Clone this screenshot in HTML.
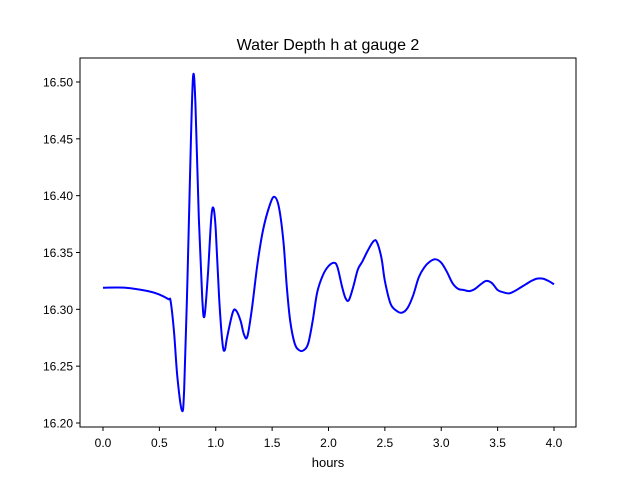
<!DOCTYPE html>
<html><head><meta charset="utf-8"><style>
body{margin:0;background:#fff;}
svg{display:block;font-family:"Liberation Sans","DejaVu Sans",sans-serif;}
</style></head><body>
<svg id="chart" width="640" height="480">
<rect x="0" y="0" width="640" height="480" fill="#fff"/>
<text x="328" y="50" font-size="16" text-anchor="middle">Water Depth h at gauge 2</text>
<g id="plot"></g>
<rect x="80" y="58" width="496" height="369" fill="none" stroke="#000" stroke-width="1"/>
<text x="328" y="467" font-size="13" text-anchor="middle">hours</text>
</svg>
<script>
const xTicks=[0.0,0.5,1.0,1.5,2.0,2.5,3.0,3.5,4.0];
const xTickLabels=["0.0","0.5","1.0","1.5","2.0","2.5","3.0","3.5","4.0"];
const yTicks=[16.20,16.25,16.30,16.35,16.40,16.45,16.50];
const yTickLabels=["16.20","16.25","16.30","16.35","16.40","16.45","16.50"];
const hours=[0.0,0.2,0.4,0.5,0.58,0.6,0.63,0.66,0.7,0.72,0.75,0.78,0.8,0.82,0.85,0.88,0.9,0.93,0.96,0.98,1.0,1.03,1.06,1.08,1.1,1.15,1.18,1.22,1.25,1.28,1.32,1.37,1.42,1.48,1.52,1.56,1.6,1.63,1.66,1.7,1.74,1.78,1.82,1.86,1.9,1.95,2.0,2.05,2.08,2.12,2.15,2.18,2.22,2.26,2.3,2.35,2.4,2.43,2.47,2.5,2.55,2.6,2.65,2.7,2.75,2.8,2.85,2.9,2.95,3.0,3.05,3.1,3.15,3.2,3.25,3.3,3.35,3.4,3.45,3.5,3.55,3.6,3.65,3.7,3.75,3.8,3.85,3.9,3.95,4.0];
const depth=[16.319,16.319,16.316,16.313,16.309,16.307,16.28,16.24,16.211,16.23,16.33,16.45,16.506,16.48,16.38,16.31,16.294,16.33,16.38,16.389,16.37,16.31,16.27,16.264,16.275,16.297,16.299,16.29,16.278,16.276,16.30,16.34,16.37,16.392,16.399,16.39,16.36,16.32,16.29,16.27,16.264,16.264,16.27,16.29,16.315,16.33,16.338,16.341,16.337,16.32,16.31,16.308,16.32,16.335,16.342,16.352,16.36,16.359,16.345,16.325,16.305,16.299,16.297,16.301,16.312,16.328,16.337,16.342,16.344,16.341,16.333,16.323,16.318,16.317,16.316,16.318,16.322,16.325,16.323,16.317,16.315,16.314,16.316,16.319,16.322,16.325,16.327,16.327,16.325,16.322];
const NS="http://www.w3.org/2000/svg";
const X=v=>103+v*112.75;
const Y=v=>423-(v-16.20)*1136.7;
const g=document.getElementById('plot');
function mk(t,a){const e=document.createElementNS(NS,t);for(const k in a)e.setAttribute(k,a[k]);g.appendChild(e);return e;}
xTicks.forEach((t,i)=>{
 const l=mk('line',{x1:X(t),x2:X(t),y1:427,y2:431,stroke:'#000'});
 
 
 const tx=mk('text',{x:X(t),y:447,'font-size':12,'text-anchor':'middle'});
 tx.textContent=xTickLabels[i];
 
 
});
yTicks.forEach((t,i)=>{
 const l=mk('line',{x1:76,x2:80,y1:Y(t),y2:Y(t),stroke:'#000'});
 
 
 const tx=mk('text',{x:73,y:Y(t)+4.5,'font-size':12,'text-anchor':'end'});
 tx.textContent=yTickLabels[i];
 
 
});
const P=hours.map((h,i)=>[X(h),Y(depth[i])]);
let d='M'+P[0][0]+','+P[0][1];
for(let i=0;i<P.length-1;i++){
 const p0=P[Math.max(0,i-1)],p1=P[i],p2=P[i+1],p3=P[Math.min(P.length-1,i+2)];
 const c1=[p1[0]+(p2[0]-p0[0])/6,p1[1]+(p2[1]-p0[1])/6];
 const c2=[p2[0]-(p3[0]-p1[0])/6,p2[1]-(p3[1]-p1[1])/6];
 d+=' C'+c1+' '+c2+' '+p2;
}
const path=mk('path',{d:d,fill:'none',stroke:'#0000ff','stroke-width':2});


</script>
</body></html>
